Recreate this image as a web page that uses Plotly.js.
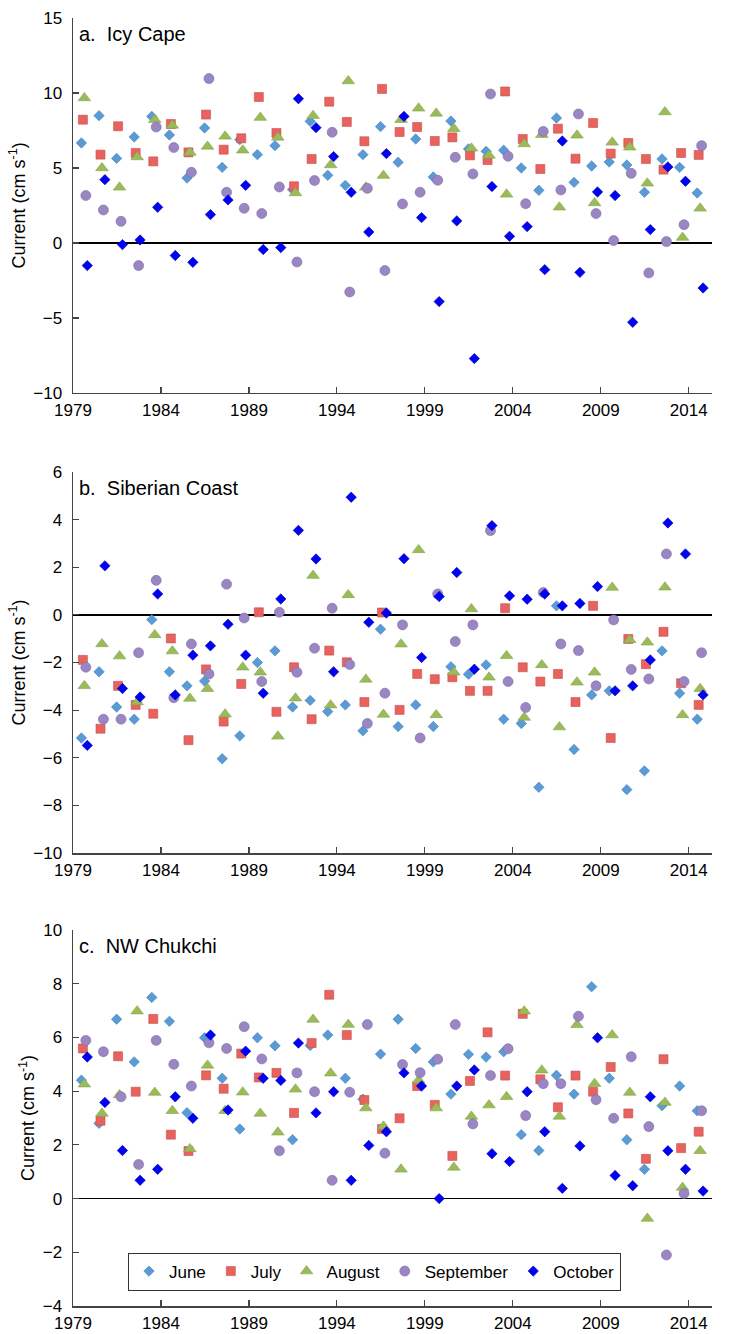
<!DOCTYPE html>
<html>
<head>
<meta charset="utf-8">
<script src="https://cdn.plot.ly/plotly-3.0.1.min.js"></script>
<style>html,body{margin:0;padding:0;background:#fff;}#chart{width:729px;height:1334px;}</style>
</head>
<body>
<div id="chart"></div>
<script>
// ---------- DATA ----------
const years = [1979,1980,1981,1982,1983,1984,1985,1986,1987,1988,1989,1990,1991,1992,1993,1994,1995,1996,1997,1998,1999,2000,2001,2002,2003,2004,2005,2006,2007,2008,2009,2010,2011,2012,2013,2014];
const xTickVals = [1979,1984,1989,1994,1999,2004,2009,2014];
const monthNames = ["June","July","August","September","October"];
const panelTitles = ["a.\u00a0 Icy Cape","b.\u00a0 Siberian Coast","c.\u00a0 NW Chukchi"];
const yTitle = "Current (cm s<sup>-1</sup>)";

// a. Icy Cape
const icyJun = [6.67,8.49,5.64,7.07,8.44,7.2,4.33,7.67,5.04,6.89,5.89,6.49,3.56,8.11,4.51,3.84,5.89,7.76,5.38,6.93,4.4,8.13,6.27,6.11,6.18,5.0,3.51,8.33,4.04,5.13,5.4,5.2,3.38,5.6,5.04,3.33];
const icyJul = [8.22,5.89,7.78,6.0,5.44,7.93,6.04,8.56,6.22,6.98,9.73,7.33,3.78,5.6,9.42,8.07,6.78,10.27,7.4,7.73,6.8,7.04,5.84,5.53,10.1,6.93,4.93,7.62,5.62,8.0,5.96,6.67,5.6,4.89,6.0,5.87];
const icyAug = [9.67,5.0,3.71,5.73,8.22,7.84,6.04,6.44,7.11,6.18,8.36,7.04,3.33,8.49,5.2,10.8,3.71,4.49,8.22,8.98,8.64,7.62,6.31,5.84,3.24,6.6,7.22,2.38,7.18,2.67,6.71,6.38,3.98,8.73,0.36,2.31];
const icySep = [3.16,2.2,1.44,-1.51,7.73,6.36,4.71,10.96,3.38,2.31,1.96,3.73,-1.27,4.16,7.38,-3.27,3.64,-1.84,2.6,3.38,4.18,5.71,4.6,9.93,5.78,2.62,7.44,3.53,8.6,1.96,0.16,4.64,-2.0,0.09,1.22,6.49];
const icyOct = [-1.51,4.22,-0.11,0.2,2.38,-0.84,-1.29,1.89,2.87,3.84,-0.44,-0.31,9.62,7.69,5.76,3.38,0.73,5.96,8.44,1.69,-3.91,1.47,-7.71,3.76,0.44,1.09,-1.78,6.8,-1.96,3.4,3.16,-5.29,0.89,5.07,4.11,-3.0];

// b. Siberian Coast
const sibJun = [-5.17,-2.39,-3.87,-4.38,-0.2,-2.39,-2.98,-2.78,-6.04,-5.08,-2.0,-1.51,-3.87,-3.59,-4.06,-3.78,-4.87,-0.6,-4.69,-3.78,-4.69,-2.18,-2.49,-2.1,-4.38,-4.56,-7.24,0.38,-5.65,-3.36,-3.19,-7.34,-6.55,-1.51,-3.29,-4.38];
const sibJul = [-1.89,-4.78,-2.98,-3.78,-4.15,-0.99,-5.26,-2.29,-4.48,-2.9,0.11,-4.07,-2.2,-4.38,-1.5,-1.99,-3.66,0.1,-3.99,-2.48,-2.7,-2.62,-3.19,-3.19,0.28,-2.2,-2.8,-2.48,-3.66,0.38,-5.17,-1.01,-2.07,-0.71,-2.87,-3.78];
const sibAug = [-2.98,-1.22,-1.73,-3.66,-0.84,-1.52,-3.51,-3.1,-4.17,-2.2,-2.41,-5.1,-3.5,1.65,-3.79,0.84,-2.71,-4.18,-1.23,2.73,-4.2,-2.41,0.25,-2.62,-1.72,-4.31,-2.1,-4.71,-2.83,-2.41,1.15,-1.05,-1.15,1.16,-4.2,-3.1];
const sibSep = [-2.2,-4.38,-4.38,-1.59,1.45,-3.48,-1.22,-2.48,1.29,-0.13,-2.8,0.11,-2.41,-1.4,0.28,-2.08,-4.56,-3.29,-0.42,-5.17,0.88,-1.12,-0.42,3.54,-2.8,-3.89,0.94,-1.22,-1.5,-2.98,-0.21,-2.29,-2.69,2.56,-2.8,-1.59];
const sibOct = [-5.48,2.06,-3.09,-3.45,0.88,-3.36,-1.69,-1.3,-0.39,-1.69,-3.29,0.67,3.55,2.35,-2.39,4.94,-0.31,0.08,2.36,-1.79,0.77,1.78,-2.28,3.75,0.8,0.66,0.88,0.38,0.48,1.19,-3.19,-2.98,-1.89,3.86,2.56,-3.36];

// c. NW Chukchi
const nwcJun = [4.41,2.8,6.68,5.09,7.49,6.6,3.2,5.99,4.48,2.59,5.99,5.69,2.19,5.7,6.09,4.48,3.7,5.38,6.68,5.59,5.09,3.89,5.37,5.27,5.47,2.38,1.79,4.59,3.89,7.89,4.48,2.19,1.09,3.46,4.19,3.27];
const nwcJul = [5.59,2.9,5.3,3.98,6.69,2.38,1.77,4.59,4.09,5.4,4.51,4.68,3.19,5.79,7.59,6.09,3.67,2.59,2.99,4.19,3.49,1.59,4.38,6.19,4.58,6.88,4.44,3.4,4.58,3.98,4.9,3.17,1.48,5.19,1.88,2.49];
const nwcAug = [4.26,3.17,3.86,6.98,3.95,3.27,1.85,4.96,3.27,3.96,3.17,2.47,4.07,6.67,4.67,6.48,3.37,2.69,1.09,4.41,3.37,1.16,3.06,3.48,3.79,6.98,4.78,3.06,6.47,4.28,6.09,3.95,-0.74,3.58,0.41,1.78];
const nwcSep = [5.89,5.47,3.79,1.27,5.89,5.0,4.19,5.8,5.59,6.4,5.2,1.78,4.68,3.98,0.68,3.96,6.48,1.69,4.99,4.69,5.19,6.48,2.78,4.58,5.58,3.09,4.28,4.28,6.79,3.68,2.99,5.28,2.68,-2.1,0.19,3.27];
const nwcOct = [5.27,3.58,1.79,0.68,1.09,3.79,2.99,6.09,3.3,5.49,4.48,4.4,5.79,3.19,3.98,0.68,1.98,2.49,4.68,4.19,0.0,4.19,4.79,1.67,1.38,3.98,2.49,0.38,1.96,5.99,0.86,0.48,3.79,1.78,1.09,0.28];

// ---------- STYLE ----------
const FONT = "Liberation Sans, Arial, Helvetica, sans-serif";
const monthNum = [6,7,8,9,10];
const markerStyles = [
  {symbol:"diamond", size:8, color:"#5B9BD5", line:{color:"#3F7FBF", width:0.6}},
  {symbol:"square", size:9, color:"#E9625E", line:{color:"#C0504D", width:0.6}},
  {symbol:"triangle-up", size:11, color:"#9BBB59", line:{color:"#86A548", width:0.6}},
  {symbol:"circle", size:10, color:"#9B86C4", line:{color:"#7E69A8", width:0.6}},
  {symbol:"diamond", size:8, color:"#0000F5", line:{color:"#0000B0", width:0.6}}
];
const panels = [
  {series:[icyJun,icyJul,icyAug,icySep,icyOct], xa:"x", ya:"y"},
  {series:[sibJun,sibJul,sibAug,sibSep,sibOct], xa:"x2", ya:"y2"},
  {series:[nwcJun,nwcJul,nwcAug,nwcSep,nwcOct], xa:"x3", ya:"y3"}
];

const traces = [];
panels.forEach((p, pi) => {
  p.series.forEach((vals, mi) => {
    traces.push({
      type:"scatter", mode:"markers",
      x: years.map(y => y + (monthNum[mi] - 0.25) / 12),
      y: vals,
      xaxis: p.xa, yaxis: p.ya,
      name: monthNames[mi], legendgroup: monthNames[mi],
      showlegend: pi === 2,
      marker: markerStyles[mi],
      hoverinfo:"skip"
    });
  });
});

const axisCommon = {
  showline:true, linecolor:"#444", linewidth:1.5,
  ticks:"inside", ticklen:6, tickwidth:1.2, tickcolor:"#444",
  showgrid:false, tickfont:{family:FONT, size:17, color:"#000"},
  automargin:false, fixedrange:true
};
function xAxis(anchor){
  return Object.assign({}, axisCommon, {
    anchor:anchor, domain:[0,1], range:[1979, 2015.32],
    tickmode:"array", tickvals:xTickVals, ticktext:xTickVals.map(String),
    zeroline:false, ticklabelstandoff:1
  });
}
function yAxis(domain, range, dtick){
  return Object.assign({}, axisCommon, {
    domain:domain, range:range, tick0:0, dtick:dtick,
    zeroline:true, zerolinecolor:"#000", zerolinewidth:1.5,
    ticklabelstandoff:6,
    title:{text:yTitle, font:{family:FONT, size:18, color:"#000"}, standoff:3}
  });
}

const domA = [0.7089, 1.0], domB = [0.3517, 0.6475], domC = [0.0, 0.2919];
const layout = {
  width:729, height:1334,
  margin:{l:73, r:17, t:18, b:28},
  paper_bgcolor:"#fff", plot_bgcolor:"#fff",
  font:{family:FONT, color:"#000"},
  showlegend:true,
  legend:{
    orientation:"h", x:0.086, xanchor:"left", y:0.012, yanchor:"bottom",
    bgcolor:"#fff", bordercolor:"#333", borderwidth:1,
    font:{family:FONT, size:17, color:"#000"}, itemwidth:30, traceorder:"normal"
  },
  xaxis: xAxis("y"), xaxis2: xAxis("y2"), xaxis3: xAxis("y3"),
  yaxis: yAxis(domA, [-10,15], 5),
  yaxis2: yAxis(domB, [-10,6], 2),
  yaxis3: yAxis(domC, [-4,10], 2),
  annotations: [domA, domB, domC].map((d, i) => ({
    xref:"paper", yref:"paper", x:0.006, y:d[1] - 0.002,
    xanchor:"left", yanchor:"top", showarrow:false,
    text: panelTitles[i], font:{family:FONT, size:20, color:"#000"}
  }))
};

Plotly.newPlot("chart", traces, layout, {displayModeBar:false, staticPlot:true});
</script>
</body>
</html>
